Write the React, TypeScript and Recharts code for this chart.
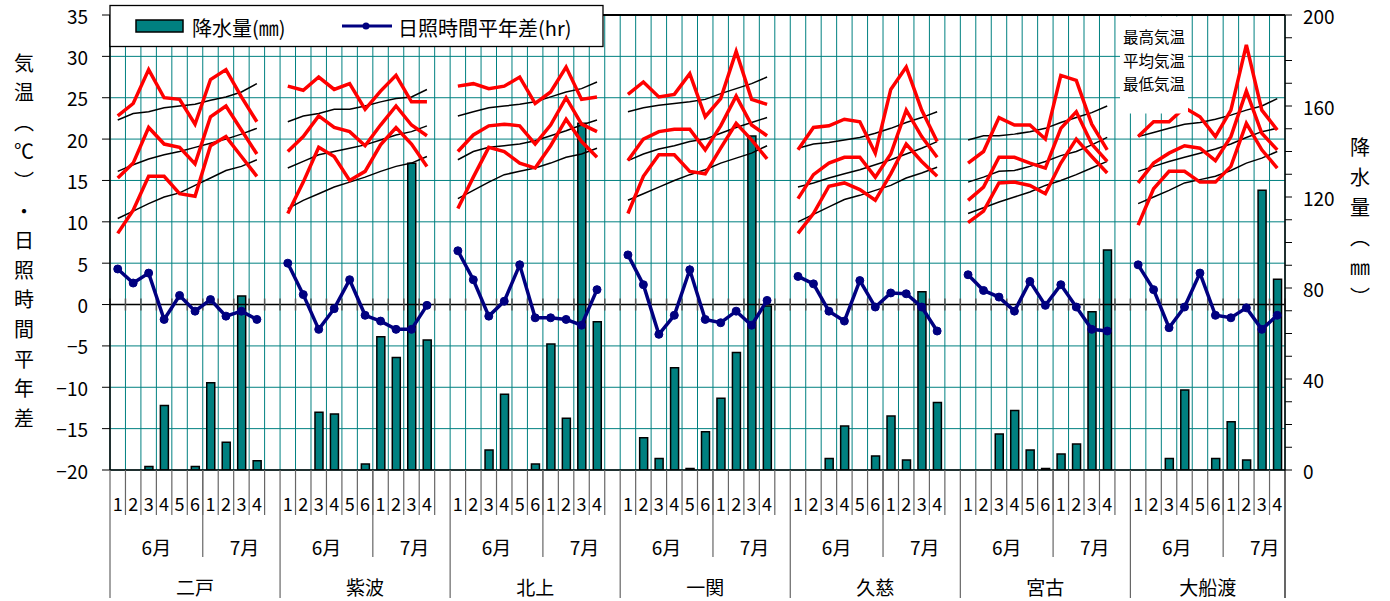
import React from 'react';
import { ComposedChart, Bar, Line, XAxis, YAxis, CartesianGrid, ReferenceLine } from 'recharts';

const stations = ['二戸', '紫波', '北上', '一関', '久慈', '宮古', '大船渡'];
const periods = ['1', '2', '3', '4', '5', '6', '1', '2', '3', '4'];
const months = ['6月', '7月'];
const tempTicks = [-20, -15, -10, -5, 0, 5, 10, 15, 20, 25, 30, 35];
const rainTicks = [0, 10, 20, 30, 40, 50, 60, 70, 80, 90, 100, 110, 120, 130, 140, 150, 160, 170, 180, 190, 200];

// 最高気温
const maxTemp = [
  [22.8, 24.3, 28.4, 25.0, 24.8, 21.8, 27.2, 28.4, 25.1, 22.1],
  [26.4, 25.9, 27.5, 26.0, 26.7, 23.6, 25.8, 27.7, 24.5, 24.5],
  [26.4, 26.7, 26.1, 26.4, 27.5, 24.3, 25.7, 28.7, 24.8, 25.1],
  [25.4, 26.9, 25.1, 25.4, 27.9, 22.7, 24.9, 30.6, 24.8, 24.2],
  [18.7, 21.4, 21.6, 22.4, 22.1, 18.3, 26.0, 28.7, 23.5, 19.7],
  [17.1, 18.5, 22.6, 21.7, 21.7, 20.0, 27.7, 27.1, 21.8, 18.7],
  [20.3, 22.1, 22.1, 23.8, 22.7, 20.3, 23.5, 31.4, 23.5, 21.1],
];
const normMax = [
  [22.3, 23.1, 23.3, 23.8, 24.0, 24.2, 24.7, 25.1, 25.7, 26.7],
  [22.1, 22.8, 23.1, 23.6, 23.6, 24.0, 24.5, 24.9, 25.1, 26.0],
  [22.8, 23.3, 23.8, 24.0, 24.2, 24.5, 25.1, 25.7, 26.1, 26.9],
  [23.3, 23.8, 24.1, 24.3, 24.5, 24.8, 25.5, 26.1, 26.7, 27.5],
  [18.9, 19.4, 19.6, 19.9, 20.2, 20.7, 21.3, 22.0, 22.6, 23.3],
  [19.9, 20.4, 20.4, 20.6, 20.9, 21.3, 22.0, 22.6, 23.2, 24.0],
  [20.3, 20.8, 21.3, 21.8, 22.0, 22.4, 22.9, 23.5, 24.0, 24.9],
];
// 平均気温
const meanTemp = [
  [15.3, 17.1, 21.4, 19.4, 19.0, 17.0, 22.7, 24.0, 21.1, 18.2],
  [18.5, 20.3, 22.8, 21.4, 20.9, 19.2, 21.7, 24.0, 21.7, 20.4],
  [18.5, 20.5, 21.6, 21.8, 21.6, 19.4, 21.7, 25.0, 21.8, 20.9],
  [17.4, 20.0, 20.9, 21.2, 21.2, 18.7, 21.6, 25.2, 21.7, 20.4],
  [12.8, 15.7, 17.1, 17.8, 17.8, 15.4, 18.2, 23.5, 20.3, 17.8],
  [12.6, 14.2, 17.8, 17.8, 17.1, 16.5, 21.3, 23.3, 19.4, 17.3],
  [14.7, 17.1, 18.3, 19.2, 18.9, 17.4, 20.3, 25.8, 20.7, 18.7],
];
const normMean = [
  [16.1, 16.9, 17.6, 18.1, 18.5, 19.0, 19.5, 20.0, 20.6, 21.3],
  [16.5, 17.3, 18.1, 18.5, 18.9, 19.3, 19.9, 20.5, 20.9, 21.6],
  [17.5, 18.5, 19.0, 19.2, 19.4, 19.8, 20.4, 21.0, 21.7, 22.3],
  [17.4, 18.2, 18.8, 19.2, 19.7, 20.0, 20.7, 21.4, 22.0, 22.6],
  [14.2, 14.7, 15.3, 15.8, 16.3, 16.9, 17.5, 18.2, 18.9, 19.7],
  [14.8, 15.4, 16.1, 16.2, 16.7, 17.3, 18.0, 18.5, 19.3, 20.2],
  [16.1, 16.7, 17.3, 17.8, 18.3, 18.8, 19.4, 20.2, 20.9, 21.3],
];
// 最低気温
const minTemp = [
  [8.6, 11.4, 15.5, 15.5, 13.4, 13.1, 19.2, 20.3, 17.9, 15.5],
  [11.0, 14.8, 19.0, 17.9, 15.0, 16.1, 19.3, 21.4, 19.4, 16.7],
  [11.6, 15.4, 19.0, 18.5, 17.1, 16.5, 19.2, 22.4, 19.7, 17.8],
  [11.0, 15.5, 18.1, 18.1, 16.1, 15.8, 18.9, 21.9, 19.9, 17.6],
  [8.6, 11.0, 14.3, 14.7, 13.9, 12.6, 15.8, 19.4, 17.3, 15.5],
  [9.9, 11.3, 14.7, 14.8, 14.4, 13.4, 17.1, 20.0, 17.9, 15.9],
  [9.6, 14.0, 16.1, 16.1, 14.8, 14.8, 16.7, 21.9, 18.7, 16.5],
];
const normMin = [
  [10.4, 11.3, 12.2, 13.0, 13.5, 14.4, 15.3, 16.2, 16.7, 17.5],
  [11.6, 12.6, 13.4, 14.2, 14.8, 15.4, 16.1, 16.7, 17.1, 17.9],
  [12.8, 13.8, 14.8, 15.7, 16.1, 16.5, 17.1, 17.8, 18.2, 18.9],
  [12.6, 13.4, 14.2, 15.0, 15.7, 16.3, 17.1, 17.7, 18.3, 19.2],
  [10.0, 10.9, 11.8, 12.7, 13.2, 13.8, 14.4, 15.3, 15.9, 16.6],
  [11.0, 11.7, 12.4, 13.0, 13.6, 14.4, 15.0, 15.7, 16.5, 17.3],
  [12.2, 13.0, 13.8, 14.7, 15.1, 15.5, 16.2, 17.1, 17.7, 18.5],
];
// 日照時間平年差(hr)
const sunDiff = [
  [4.3, 2.6, 3.8, -1.8, 1.1, -0.8, 0.6, -1.4, -0.8, -1.8],
  [5.0, 1.2, -3.0, -0.5, 3.0, -1.3, -2.0, -3.0, -3.0, -0.1],
  [6.5, 3.0, -1.4, 0.4, 4.8, -1.6, -1.6, -1.8, -2.5, 1.8],
  [6.0, 2.4, -3.6, -1.3, 4.2, -1.8, -2.2, -0.8, -2.5, 0.5],
  [3.4, 2.5, -0.8, -2.0, 2.9, -0.3, 1.4, 1.3, -0.3, -3.2],
  [3.6, 1.7, 0.9, -0.8, 2.8, -0.1, 2.4, -0.3, -3.0, -3.2],
  [4.8, 1.8, -2.8, -0.3, 3.8, -1.3, -1.6, -0.4, -3.0, -1.3],
];
// 降水量(mm)
const precip = [
  [0, 0, 1.5, 28.3, 0, 1.5, 38.4, 12.2, 76.5, 4.1],
  [0, 0, 25.4, 24.6, 0, 2.6, 58.6, 49.4, 134.8, 57.1],
  [0, 0, 8.8, 33.3, 0, 2.6, 55.4, 22.7, 152.4, 65.2],
  [0, 14.2, 5.1, 45.0, 0.7, 16.8, 31.5, 51.7, 146.8, 72.1],
  [0, 0, 5.1, 19.3, 0, 6.2, 23.7, 4.4, 78.4, 29.7],
  [0, 0, 15.8, 26.1, 8.8, 0.7, 7.0, 11.4, 69.6, 96.7],
  [0, 0, 5.1, 35.2, 0, 5.1, 21.2, 4.4, 123.0, 83.8],
];

// one row per period, plus an empty slot between stations
const rows: any[] = [];
stations.forEach((st, s) => {
  periods.forEach((p, k) => {
    rows.push({
      key: `${s}-${k}`, s, k, label: p,
      maxT: maxTemp[s][k], nMax: normMax[s][k],
      meanT: meanTemp[s][k], nMean: normMean[s][k],
      minT: minTemp[s][k], nMin: normMin[s][k],
      sun: sunDiff[s][k],
      rain: precip[s][k] > 0 ? precip[s][k] : null,
    });
  });
  if (s < stations.length - 1) rows.push({ key: `${s}-gap`, s, k: 10, label: '' });
});

const W = 1390;
const H = 601;
const PLOT_LEFT = 110;
const PLOT_RIGHT = 1285;
const PLOT_TOP = 15;
const PLOT_BOTTOM = 470;
const FONT = "'Noto Sans CJK JP', 'Noto Sans', sans-serif";
const TEAL = '#008080';
const NAVY = '#000080';
const SEP = '#666';

const SlotTick = (props: any) => {
  const { x, payload } = props;
  const row = rows.find((r) => r.key === payload.value);
  if (!row) return <g />;
  const bw = (PLOT_RIGHT - PLOT_LEFT) / rows.length;
  const last = row.s === stations.length - 1;
  const y0 = PLOT_BOTTOM;
  const txt = { fontSize: 18, fill: '#000', textAnchor: 'middle' as const, dominantBaseline: 'central' as const, fontFamily: FONT };
  return (
    <g>
      {row.k === 0 && <line x1={x - bw / 2} x2={x - bw / 2} y1={y0} y2={598} stroke={SEP} strokeWidth={1.2} />}
      {row.k < 10 && <text x={x} y={503} {...txt}>{row.label}</text>}
      {row.k < 10 && (
        <line
          x1={x + bw / 2}
          x2={x + bw / 2}
          y1={y0}
          y2={last && row.k === 9 ? 598 : 515}
          stroke={last && row.k === 9 ? '#000' : SEP}
          strokeWidth={1.2}
        />
      )}
      {row.k === 2 && <text x={x + bw / 2} y={546} {...txt} fontSize={19}>{months[0]}</text>}
      {row.k === 8 && <text x={x + 3} y={546} {...txt} fontSize={19}>{months[1]}</text>}
      {row.k === 5 && <line x1={x + bw / 2} x2={x + bw / 2} y1={y0} y2={557} stroke={SEP} strokeWidth={1.2} />}
      {row.k === 5 && (
        <text x={last ? x - bw / 2 : x} y={586} {...txt} fontSize={19}>{stations[row.s]}</text>
      )}
    </g>
  );
};

const LeftTick = (props: any) => (
  <text x={88} y={props.y} textAnchor="end" dominantBaseline="central" fontSize={19} fontFamily={FONT} fill="#000">
    {String(props.payload.value).replace('-', '−')}
  </text>
);

const RightTick = (props: any) =>
  props.payload.value % 40 === 0 ? (
    <text x={1303} y={props.y} textAnchor="start" dominantBaseline="central" fontSize={19} fontFamily={FONT} fill="#000">
      {props.payload.value}
    </text>
  ) : (
    <g />
  );

// zero line with small tick marks at each slot boundary
const ZeroAxis = (p: any) => {
  const { x1, x2, y1 } = p;
  const n = rows.length;
  const w = (x2 - x1) / n;
  return (
    <g>
      <line x1={x1} x2={x2} y1={y1} y2={y1} stroke="#000" strokeWidth={1.5} />
      {Array.from({ length: n + 1 }, (_, i) => (
        <line key={i} x1={x1 + i * w} x2={x1 + i * w} y1={y1 - 6} y2={y1 + 6} stroke="#555" strokeWidth={1.5} />
      ))}
    </g>
  );
};

const leftTitle = ['気', '温', '︵', '℃', '︶', '・', '日', '照', '時', '間', '平', '年', '差'];
const rightTitle = ['降', '水', '量', '︵', '㎜', '︶'];
const tempLegend = ['最高気温', '平均気温', '最低気温'];

export default function App() {
  return (
    <div style={{ position: 'relative', width: W, height: H, background: '#fff', fontFamily: FONT }}>
      <style>{'body{margin:0}'}</style>
      <ComposedChart
        width={W}
        height={H}
        data={rows}
        margin={{ top: PLOT_TOP, right: 0, bottom: 0, left: 0 }}
      >
        <CartesianGrid
          yAxisId="t"
          stroke={TEAL}
          strokeWidth={1}
          verticalCoordinatesGenerator={({ offset }: any) =>
            Array.from({ length: rows.length + 1 }, (_, i) => offset.left + (i * offset.width) / rows.length)
          }
        />
        <XAxis
          dataKey="key"
          type="category"
          height={H - PLOT_BOTTOM}
          interval={0}
          tickLine={false}
          axisLine={{ stroke: '#000', strokeWidth: 1.5 }}
          tick={(p: any) => <SlotTick {...p} />}
        />
        <YAxis
          yAxisId="t"
          width={PLOT_LEFT}
          domain={[-20, 35]}
          ticks={tempTicks}
          interval={0}
          allowDataOverflow
          tickSize={8}
          tickLine={{ stroke: '#000' }}
          axisLine={{ stroke: '#000', strokeWidth: 1.5 }}
          tick={(p: any) => <LeftTick {...p} />}
        />
        <YAxis
          yAxisId="p"
          orientation="right"
          width={W - PLOT_RIGHT}
          domain={[0, 200]}
          ticks={rainTicks}
          interval={0}
          allowDataOverflow
          tickSize={7}
          tickLine={{ stroke: '#000' }}
          axisLine={{ stroke: '#000', strokeWidth: 1.5 }}
          tick={(p: any) => <RightTick {...p} />}
        />
        <ReferenceLine yAxisId="t" y={35} stroke="#000" strokeWidth={2} />
        <Bar
          yAxisId="p"
          dataKey="rain"
          barSize={8}
          fill={TEAL}
          stroke="#000"
          strokeWidth={1.5}
          isAnimationActive={false}
        />
        <ReferenceLine yAxisId="t" y={0} shape={(p: any) => <ZeroAxis {...p} />} />
        <Line yAxisId="t" dataKey="nMax" stroke="#000" strokeWidth={1.5} dot={false} isAnimationActive={false} />
        <Line yAxisId="t" dataKey="nMean" stroke="#000" strokeWidth={1.5} dot={false} isAnimationActive={false} />
        <Line yAxisId="t" dataKey="nMin" stroke="#000" strokeWidth={1.5} dot={false} isAnimationActive={false} />
        <Line yAxisId="t" dataKey="maxT" stroke="#FF0000" strokeWidth={3.5} dot={false} isAnimationActive={false} />
        <Line yAxisId="t" dataKey="meanT" stroke="#FF0000" strokeWidth={3.5} dot={false} isAnimationActive={false} />
        <Line yAxisId="t" dataKey="minT" stroke="#FF0000" strokeWidth={3.5} dot={false} isAnimationActive={false} />
        <Line
          yAxisId="t"
          dataKey="sun"
          stroke={NAVY}
          strokeWidth={3.5}
          dot={{ r: 4, fill: NAVY, stroke: NAVY, strokeWidth: 1 }}
          isAnimationActive={false}
        />
      </ComposedChart>

      <svg
        width={W}
        height={H}
        style={{ position: 'absolute', left: 0, top: 0, pointerEvents: 'none' }}
        fontFamily={FONT}
      >
        {/* series legend */}
        <rect x={110} y={5.5} width={493} height={41} fill="#fff" stroke="#000" strokeWidth={1.3} />
        <rect x={136} y={20} width={47} height={12} fill={TEAL} stroke="#000" strokeWidth={1.5} />
        <text x={192} y={27} fontSize={20} dominantBaseline="central">降水量(㎜)</text>
        <line x1={342} x2={392} y1={26} y2={26} stroke={NAVY} strokeWidth={3} />
        <circle cx={366} cy={26} r={3.5} fill={NAVY} />
        <text x={398} y={27} fontSize={20} dominantBaseline="central">日照時間平年差(hr)</text>

        {/* temperature legend */}
        <rect x={1120} y={16.5} width={68} height={97} fill="#fff" />
        {tempLegend.map((t, i) => (
          <text key={t} x={1123} y={36 + i * 23.5} fontSize={15.5} dominantBaseline="central">{t}</text>
        ))}

        {/* axis titles */}
        {leftTitle.map((c, i) => (
          <text key={i} x={24} y={62 + i * 29.6} fontSize={20} textAnchor="middle" dominantBaseline="central">{c}</text>
        ))}
        {rightTitle.map((c, i) => (
          <text key={i} x={1360} y={146 + i * 30} fontSize={20} textAnchor="middle" dominantBaseline="central">{c}</text>
        ))}
      </svg>
    </div>
  );
}
